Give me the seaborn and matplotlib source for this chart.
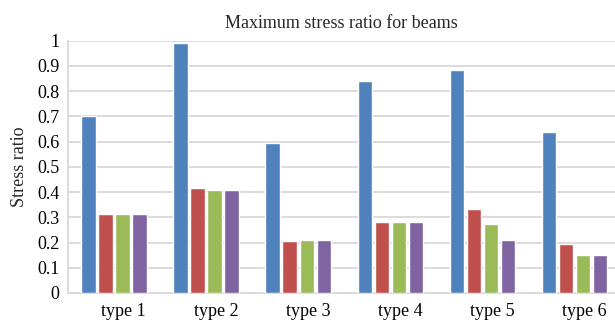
import pandas as pd
import numpy as np
import matplotlib
matplotlib.use("Agg")
import matplotlib.pyplot as plt
import matplotlib.transforms as mtransforms
import seaborn as sns

# Datos del grafico
tipos = ["type 1", "type 2", "type 3", "type 4", "type 5", "type 6"]
serie_1 = [0.700, 0.989, 0.594, 0.839, 0.883, 0.637]
serie_2 = [0.313, 0.416, 0.207, 0.281, 0.332, 0.194]
serie_3 = [0.313, 0.408, 0.211, 0.281, 0.273, 0.150]
serie_4 = [0.313, 0.408, 0.211, 0.281, 0.210, 0.150]
series = ["s1", "s2", "s3", "s4"]
colores = ["#4F81BD", "#C0504D", "#9BBB59", "#8064A2"]
yticks = [0, 0.1, 0.2, 0.3, 0.4, 0.5, 0.6, 0.7, 0.8, 0.9, 1]
ytick_labels = ["0", "0.1", "0.2", "0.3", "0.4", "0.5", "0.6", "0.7", "0.8", "0.9", "1"]

# Tabla larga para seaborn
filas = []
for nombre, valores in zip(series, [serie_1, serie_2, serie_3, serie_4]):
    for t, v in zip(tipos, valores):
        filas.append({"tipo": t, "serie": nombre, "valor": v})
df = pd.DataFrame(filas)

sns.set_style("white")
plt.rcParams["font.family"] = ["Liberation Serif", "DejaVu Serif"]
plt.rcParams["font.size"] = 13

fig = plt.figure(figsize=(6.15, 3.23), dpi=100)
ax = fig.add_axes([0.1106, 0.0929, 0.8894, 0.7811])

sns.barplot(data=df, x="tipo", y="valor", hue="serie", palette=colores,
            saturation=1, width=0.74, gap=0.15, legend=False, ax=ax, zorder=3)

ax.set_ylim(0, 1)
ax.set_xlim(-0.5, 5.44)
ax.set_yticks(yticks)
ax.set_yticklabels(ytick_labels)
ax.yaxis.grid(True, color="#D9D9D9", linewidth=1.3, zorder=0)
ax.set_axisbelow(True)

# Bordes
for lado in ["top", "right"]:
    ax.spines[lado].set_visible(False)
for lado in ["left", "bottom"]:
    ax.spines[lado].set_color("#D9D9D9")
    ax.spines[lado].set_linewidth(1.3)

ax.tick_params(axis="both", length=0, labelsize=13, colors="#000000")
ax.tick_params(axis="y", pad=6)
ax.tick_params(axis="x", pad=7)

# Mover un poco las etiquetas a la derecha
desplazar = mtransforms.ScaledTranslation(7 / 72, 0, fig.dpi_scale_trans)
for etiqueta in ax.get_xticklabels():
    etiqueta.set_transform(etiqueta.get_transform() + desplazar)

ax.set_xlabel("")
ax.set_ylabel("Stress ratio", fontsize=13, labelpad=7)
ax.set_title("Maximum stress ratio for beams", fontsize=13, pad=9)

fig.savefig("out.png", dpi=100)
